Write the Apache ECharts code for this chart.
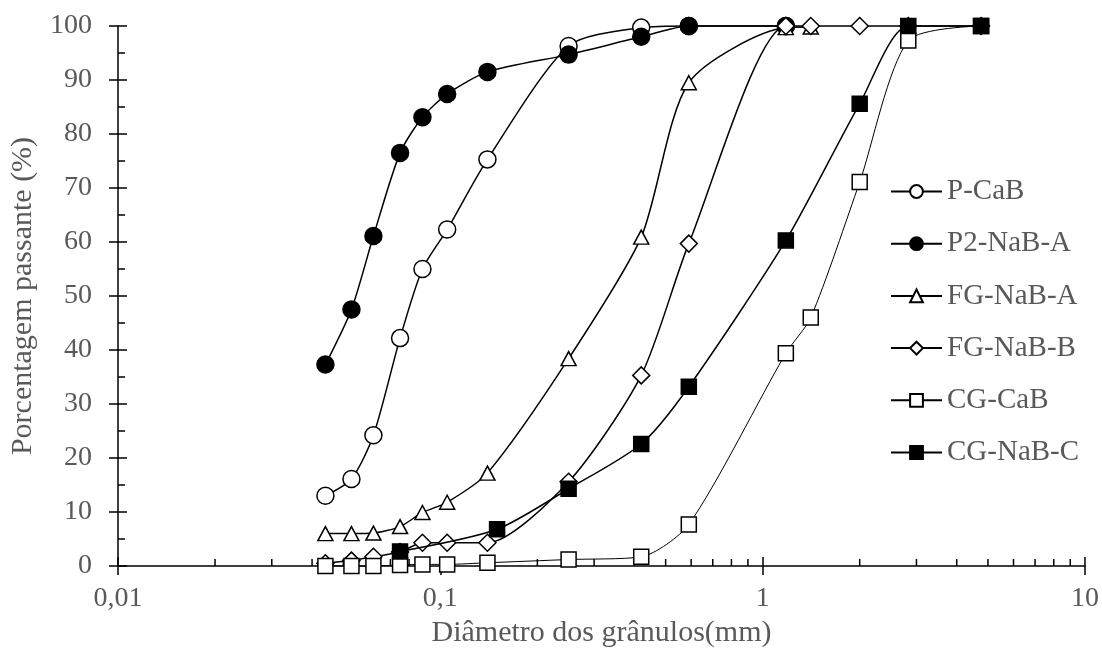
<!DOCTYPE html>
<html>
<head>
<meta charset="utf-8">
<script src="https://cdn.jsdelivr.net/npm/echarts@6/dist/echarts.min.js"></script>
<style>
  html, body { margin: 0; padding: 0; background: #fff; }
  #chart { width: 1102px; height: 655px; }
</style>
</head>
<body>
<div id="chart"></div>
<script>
// Particle size distribution: sieve opening (mm) vs. cumulative % passing
const seriesNames = ['P-CaB', 'P2-NaB-A', 'FG-NaB-A', 'FG-NaB-B', 'CG-CaB', 'CG-NaB-C'];

const pCaB_x = [0.044, 0.053, 0.062, 0.075, 0.088, 0.105, 0.14, 0.25, 0.42, 0.59, 1.18];
const pCaB_y = [13.0, 16.1, 24.2, 42.2, 55.0, 62.3, 75.3, 96.3, 99.7, 100, 100];

const p2NaBA_x = [0.044, 0.053, 0.062, 0.075, 0.088, 0.105, 0.14, 0.25, 0.42, 0.59, 1.18];
const p2NaBA_y = [37.3, 47.5, 61.1, 76.5, 83.1, 87.4, 91.5, 94.7, 98.0, 100, 100];

const fgNaBA_x = [0.044, 0.053, 0.062, 0.075, 0.088, 0.105, 0.14, 0.25, 0.42, 0.59, 1.18, 1.41];
const fgNaBA_y = [6.0, 6.0, 6.1, 7.3, 9.9, 11.8, 17.2, 38.4, 60.9, 89.5, 99.7, 99.8];

const fgNaBB_x = [0.044, 0.053, 0.062, 0.075, 0.088, 0.105, 0.14, 0.25, 0.42, 0.59, 1.18, 1.41, 2.0, 2.83, 4.76];
const fgNaBB_y = [0.5, 1.0, 1.7, 2.6, 4.3, 4.3, 4.3, 15.6, 35.3, 59.7, 100, 100, 100, 100, 100];

const cgCaB_x = [0.044, 0.053, 0.062, 0.075, 0.088, 0.105, 0.14, 0.25, 0.42, 0.59, 1.18, 1.41, 2.0, 2.83, 4.76];
const cgCaB_y = [0.0, 0.0, 0.0, 0.2, 0.3, 0.3, 0.6, 1.2, 1.7, 7.7, 39.4, 46.0, 71.1, 97.3, 100];

const cgNaBC_x = [0.075, 0.15, 0.25, 0.42, 0.59, 1.18, 2.0, 2.83, 4.76];
const cgNaBC_y = [2.7, 6.8, 14.3, 22.6, 33.2, 60.3, 85.6, 100, 100];

// Minor tick positions for the logarithmic x axis
const xMinorTicks = [0.02, 0.03, 0.04, 0.05, 0.06, 0.07, 0.08, 0.09,
                     0.2, 0.3, 0.4, 0.5, 0.6, 0.7, 0.8, 0.9,
                     2, 3, 4, 5, 6, 7, 8, 9];

const FONT = '"Liberation Serif", "Times New Roman", serif';
const GREY = '#595959';

function pairs(xs, ys) { return xs.map((x, i) => [x, ys[i]]); }

const styles = [
  { symbol: 'circle', size: 17, fill: '#fff', lw: 1.5 },
  { symbol: 'circle', size: 17, fill: '#000', lw: 1.5 },
  { symbol: 'triangle', size: [15, 14], fill: '#fff', lw: 1.5 },
  { symbol: 'diamond', size: 17, fill: '#fff', lw: 1.5 },
  { symbol: 'rect', size: 15, fill: '#fff', lw: 1 },
  { symbol: 'rect', size: 15, fill: '#000', lw: 1.5 }
];
const dataSets = [
  pairs(pCaB_x, pCaB_y), pairs(p2NaBA_x, p2NaBA_y), pairs(fgNaBA_x, fgNaBA_y),
  pairs(fgNaBB_x, fgNaBB_y), pairs(cgCaB_x, cgCaB_y), pairs(cgNaBC_x, cgNaBC_y)
];

const lineSeries = seriesNames.map((name, i) => ({
  name: name,
  type: 'line',
  xAxisIndex: 0,
  yAxisIndex: 0,
  data: dataSets[i],
  smooth: 0.25,
  clip: false,
  symbol: styles[i].symbol,
  symbolSize: styles[i].size,
  showAllSymbol: true,
  lineStyle: { color: '#000', width: styles[i].lw },
  itemStyle: { color: styles[i].fill, borderColor: '#000', borderWidth: 1.5, opacity: 1 },
  emphasis: { disabled: true },
  z: 3 + i
}));

const minorTickSeries = {
  type: 'custom',
  xAxisIndex: 0,
  yAxisIndex: 0,
  silent: true,
  clip: false,
  z: 1,
  data: xMinorTicks.map(v => [v, 0]),
  encode: { x: 0, y: 1 },
  renderItem: function (params, api) {
    const p = api.coord([api.value(0), 0]);
    return {
      type: 'line',
      shape: { x1: p[0], y1: p[1], x2: p[0], y2: p[1] - 7 },
      style: { stroke: '#000', lineWidth: 1.5 }
    };
  }
};

function fmtLog(v) {
  return String(Number(Number(v).toPrecision(6))).replace('.', ',');
}

const chart = echarts.init(document.getElementById('chart'), null, { renderer: 'canvas' });
chart.setOption({
  animation: false,
  backgroundColor: '#fff',
  textStyle: { fontFamily: FONT },
  grid: { left: 116, right: 17, top: 26, bottom: 89, containLabel: false },
  xAxis: [
    {
      type: 'log', logBase: 10, min: 0.01, max: 10, position: 'bottom',
      axisLine: { show: true, onZero: false, lineStyle: { color: '#000', width: 1.5 } },
      axisTick: { show: true, inside: false, length: 9, lineStyle: { color: '#000', width: 1.5 } },
      minorTick: { show: false },
      splitLine: { show: false },
      axisLabel: { color: GREY, fontFamily: FONT, fontSize: 28, margin: 19, formatter: fmtLog },
      name: 'Diâmetro dos grânulos(mm)',
      nameLocation: 'middle',
      nameGap: 52,
      nameTextStyle: { color: GREY, fontFamily: FONT, fontSize: 30 }
    },
    {
      type: 'log', logBase: 10, min: 0.01, max: 10, position: 'bottom',
      axisLine: { show: false, onZero: false },
      axisTick: { show: true, inside: true, length: 9, lineStyle: { color: '#000', width: 1.5 } },
      splitLine: { show: false },
      axisLabel: { show: false }
    }
  ],
  yAxis: [
    {
      type: 'value', min: 0, max: 100, interval: 10, position: 'left',
      axisLine: { show: true, onZero: false, lineStyle: { color: '#000', width: 1.5 } },
      axisTick: { show: true, inside: false, length: 9, lineStyle: { color: '#000', width: 1.5 } },
      splitLine: { show: false },
      axisLabel: { color: GREY, fontFamily: FONT, fontSize: 28, margin: 26 },
      name: 'Porcentagem passante (%)',
      nameLocation: 'middle',
      nameGap: 80,
      nameTextStyle: { color: GREY, fontFamily: FONT, fontSize: 30 }
    },
    {
      type: 'value', min: 0, max: 100, interval: 10, position: 'left',
      axisLine: { show: false, onZero: false },
      axisTick: { show: true, inside: true, length: 9, lineStyle: { color: '#000', width: 1.5 } },
      minorTick: { show: true, splitNumber: 2, length: 7, lineStyle: { color: '#000', width: 1.5 } },
      splitLine: { show: false },
      minorSplitLine: { show: false },
      axisLabel: { show: false }
    }
  ],
  legend: {
    orient: 'vertical',
    left: 885,
    top: 172,
    itemWidth: 51,
    itemHeight: 16,
    itemGap: 23.2,
    selectedMode: false,
    data: seriesNames,
    textStyle: { color: GREY, fontFamily: FONT, fontSize: 29 }
  },
  series: lineSeries.concat([minorTickSeries])
});
</script>
</body>
</html>
